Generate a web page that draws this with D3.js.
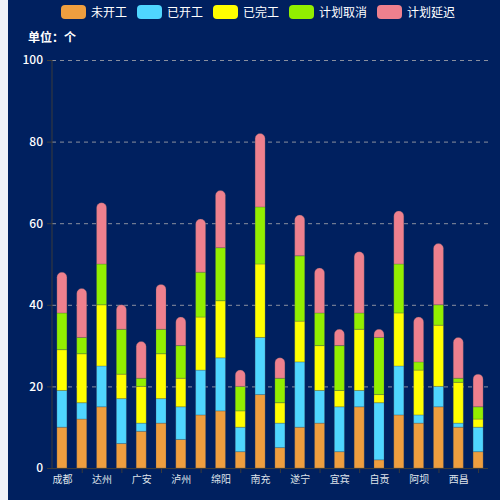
<!DOCTYPE html>
<html lang="zh">
<head>
<meta charset="UTF-8">
<title>项目进度</title>
<script src="https://d3js.org/d3.v7.min.js"></script>
<style>
  html, body { margin: 0; padding: 0; background: #f0f2f7; }
  svg { display: block; }
  text { font-family: "Noto Sans CJK SC", "Microsoft YaHei", sans-serif; }
</style>
</head>
<body>
<script>
  // 数据
  var cities = ['成都','巴中','达州','德阳','广安','广元','泸州','乐山','绵阳','眉山','南充',
                '内江','遂宁','攀枝花','宜宾','雅安','自贡','资阳','阿坝','甘孜','西昌','凉山']
  var notStarted = [10,12,15,6,9,11,7,13,14,4,18,5,10,11,4,15,2,13,11,15,10,4]
  var started    = [9,4,10,11,2,6,8,11,13,6,14,6,16,8,11,4,14,12,2,5,1,6]
  var finished   = [10,12,15,6,9,11,7,13,14,4,18,5,10,11,4,15,2,13,11,15,10,2]
  var cancelled  = [9,4,10,11,2,6,8,11,13,6,14,6,16,8,11,4,14,12,2,5,1,3]
  var delayed    = [10,12,15,6,9,11,7,13,14,4,18,5,10,11,4,15,2,13,11,15,10,8]
  var seriesNames = ['未开工','已开工','已完工','计划取消','计划延迟']
  var yTicks = [0,20,40,60,80,100]

  var colors = ['#ee9e3f','#4fd6ff','#ffff00','#92ef00','#ee808e']
  var width = 500, height = 500
  var padding = {top: 60, right: 12, bottom: 32, left: 52}
  var barWidth = 10

  var svg = d3.select('body').append('svg').attr('width', width).attr('height', height)
  // 背景
  svg.append('rect').attr('x', 8).attr('y', 0).attr('width', width - 8).attr('height', height)
     .attr('fill', '#00205f')

  var rows = cities.map(function (c, i) {
    return {city: c, s0: notStarted[i], s1: started[i], s2: finished[i], s3: cancelled[i], s4: delayed[i]}
  })
  var keys = ['s0','s1','s2','s3','s4']
  var stacked = d3.stack().keys(keys)(rows)

  var xScale = d3.scalePoint().domain(cities).range([padding.left, width - padding.right]).padding(0.5)
  var yScale = d3.scaleLinear().domain([0, 100]).range([height - padding.bottom, padding.top])
  var plotW = width - padding.right - padding.left

  // 网格线
  svg.append('g').attr('transform', 'translate(' + padding.left + ',0)')
     .call(d3.axisLeft(yScale).tickValues(yTicks.slice(1)).tickSize(-plotW).tickFormat(''))
     .call(function (g) {
       g.select('.domain').remove()
       g.selectAll('line').attr('stroke', '#8a8f9e').attr('stroke-dasharray', '4,4')
     })

  // 柱子，最上面一段做圆角
  function topRounded(x, y0, y1, w) {
    var r = w / 2
    var h = y0 - y1
    if (h < r) r = h
    return 'M' + x + ',' + y0 + 'L' + x + ',' + (y1 + r) +
           'A' + r + ',' + r + ' 0 0 1 ' + (x + w) + ',' + (y1 + r) +
           'L' + (x + w) + ',' + y0 + 'Z'
  }
  stacked.forEach(function (layer, li) {
    var g = svg.append('g').attr('fill', colors[li])
    g.selectAll('path').data(layer).enter().append('path')
      .attr('d', function (d) {
        var x = xScale(d.data.city) - barWidth / 2
        var y0 = yScale(d[0]), y1 = yScale(d[1])
        if (li === keys.length - 1) return topRounded(x, y0, y1, barWidth)
        return 'M' + x + ',' + y0 + 'L' + x + ',' + y1 + 'L' + (x + barWidth) + ',' + y1 +
               'L' + (x + barWidth) + ',' + y0 + 'Z'
      })
      .attr('stroke', 'rgba(70,80,90,0.45)').attr('stroke-width', 0.6)
  })

  // y轴
  svg.append('g').attr('transform', 'translate(' + padding.left + ',0)')
     .call(d3.axisLeft(yScale).tickValues(yTicks).tickSize(5).tickPadding(4))
     .call(function (g) {
       g.select('.domain').attr('stroke', '#3a3a3a').attr('d', 'M0,' + (height - padding.bottom) + 'V' + padding.top)
       g.selectAll('line').attr('stroke', '#3a3a3a')
       g.selectAll('text').attr('fill', '#ffffff').style('font-size', '12px').style('font-weight', '500')
     })

  // x轴：刻度在奇数位，标签在偶数位
  var evenCities = cities.filter(function (c, i) { return i % 2 === 0 })
  var oddCities = cities.filter(function (c, i) { return i % 2 === 1 })
  svg.append('g').attr('transform', 'translate(0,' + (height - padding.bottom) + ')')
     .call(d3.axisBottom(xScale).tickValues(oddCities).tickSize(5).tickFormat(''))
     .call(function (g) {
       g.select('.domain').attr('stroke', '#3a3a3a').attr('d', 'M' + padding.left + ',0.5H' + (width - padding.right))
       g.selectAll('line').attr('stroke', '#3a3a3a')
     })
  svg.append('g').attr('transform', 'translate(0,' + (height - padding.bottom) + ')')
     .call(d3.axisBottom(xScale).tickValues(evenCities).tickSize(0).tickPadding(8))
     .call(function (g) {
       g.select('.domain').remove()
       g.selectAll('text').attr('fill', '#dfe3ea').style('font-size', '10px')
     })

  // 单位
  svg.append('text').attr('x', 28).attr('y', 42).attr('fill', '#ffffff')
     .style('font-size', '12px').style('font-weight', 'bold').text('单位：个')

  // 图例
  var legendX = [61, 137, 213, 289, 377]
  var legend = svg.append('g')
  seriesNames.forEach(function (name, i) {
    legend.append('rect').attr('x', legendX[i]).attr('y', 5).attr('width', 25).attr('height', 14)
          .attr('rx', 4).attr('fill', colors[i])
    legend.append('text').attr('x', legendX[i] + 30).attr('y', 16.5).attr('fill', '#ffffff')
          .style('font-size', '12px').text(name)
  })
</script>
</body>
</html>
